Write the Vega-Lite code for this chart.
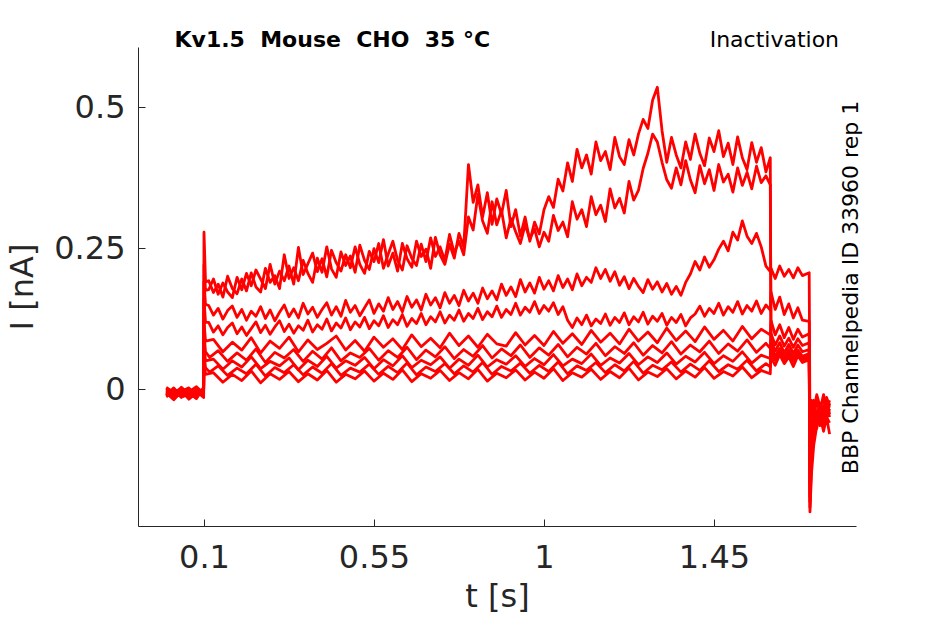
{
"$schema": "https://vega.github.io/schema/vega-lite/v6.json",
"width": 718, "height": 479,
"autosize": "none",
"padding": {"left": 138, "top": 47, "right": 89, "bottom": 98},
"background": "white",
"config": {"view": {"stroke": null}, "font": "DejaVu Sans"},
"datasets": {"traces": [
{"s":1,"t":0,"i":-0.004},{"s":1,"t":0.02,"i":-0.013},{"s":1,"t":0.04,"i":0.003},{"s":1,"t":0.06,"i":-0.009},{"s":1,"t":0.08,"i":-0.016},{"s":1,"t":0.099,"i":0.001},
{"s":1,"t":0.1,"i":0.278},{"s":1,"t":0.104,"i":0.19},
{"s":1,"t":0.1125,"i":0.192},{"s":1,"t":0.125,"i":0.171},{"s":1,"t":0.1375,"i":0.186},{"s":1,"t":0.15,"i":0.163},{"s":1,"t":0.1625,"i":0.2},{"s":1,"t":0.175,"i":0.178},{"s":1,"t":0.1875,"i":0.169},{"s":1,"t":0.2,"i":0.195},{"s":1,"t":0.2125,"i":0.174},{"s":1,"t":0.225,"i":0.206},
{"s":1,"t":0.2375,"i":0.181},{"s":1,"t":0.25,"i":0.172},{"s":1,"t":0.2625,"i":0.214},{"s":1,"t":0.275,"i":0.189},{"s":1,"t":0.2875,"i":0.201},{"s":1,"t":0.3,"i":0.178},{"s":1,"t":0.3125,"i":0.238},{"s":1,"t":0.325,"i":0.196},{"s":1,"t":0.3375,"i":0.215},{"s":1,"t":0.35,"i":0.192},
{"s":1,"t":0.3625,"i":0.228},{"s":1,"t":0.375,"i":0.205},{"s":1,"t":0.3875,"i":0.189},{"s":1,"t":0.4,"i":0.232},{"s":1,"t":0.4125,"i":0.207},{"s":1,"t":0.425,"i":0.252},{"s":1,"t":0.4375,"i":0.213},{"s":1,"t":0.45,"i":0.198},{"s":1,"t":0.4625,"i":0.243},{"s":1,"t":0.475,"i":0.219},
{"s":1,"t":0.4875,"i":0.236},{"s":1,"t":0.5,"i":0.207},{"s":1,"t":0.5125,"i":0.255},{"s":1,"t":0.525,"i":0.228},{"s":1,"t":0.5375,"i":0.212},{"s":1,"t":0.55,"i":0.249},{"s":1,"t":0.5625,"i":0.224},{"s":1,"t":0.575,"i":0.265},{"s":1,"t":0.5875,"i":0.218},{"s":1,"t":0.6,"i":0.241},
{"s":1,"t":0.6125,"i":0.209},{"s":1,"t":0.625,"i":0.258},{"s":1,"t":0.6375,"i":0.231},{"s":1,"t":0.65,"i":0.216},{"s":1,"t":0.6625,"i":0.262},{"s":1,"t":0.675,"i":0.235},{"s":1,"t":0.6875,"i":0.248},{"s":1,"t":0.7,"i":0.214},{"s":1,"t":0.7125,"i":0.269},{"s":1,"t":0.725,"i":0.238},
{"s":1,"t":0.7375,"i":0.221},{"s":1,"t":0.75,"i":0.257},{"s":1,"t":0.7625,"i":0.232},{"s":1,"t":0.775,"i":0.276},{"s":1,"t":0.7875,"i":0.252},{"s":1,"t":0.8,"i":0.398},{"s":1,"t":0.8125,"i":0.331},{"s":1,"t":0.825,"i":0.362},{"s":1,"t":0.8375,"i":0.305},{"s":1,"t":0.85,"i":0.348},
{"s":1,"t":0.8625,"i":0.292},{"s":1,"t":0.875,"i":0.337},{"s":1,"t":0.8875,"i":0.31},{"s":1,"t":0.9,"i":0.352},{"s":1,"t":0.9125,"i":0.288},{"s":1,"t":0.925,"i":0.318},{"s":1,"t":0.9375,"i":0.271},{"s":1,"t":0.95,"i":0.305},{"s":1,"t":0.9625,"i":0.262},{"s":1,"t":0.975,"i":0.296},
{"s":1,"t":0.9875,"i":0.275},{"s":1,"t":1,"i":0.318},{"s":1,"t":1.0125,"i":0.341},{"s":1,"t":1.025,"i":0.322},{"s":1,"t":1.0375,"i":0.372},{"s":1,"t":1.05,"i":0.351},{"s":1,"t":1.0625,"i":0.401},{"s":1,"t":1.075,"i":0.368},{"s":1,"t":1.0875,"i":0.425},{"s":1,"t":1.1,"i":0.392},
{"s":1,"t":1.1125,"i":0.415},{"s":1,"t":1.125,"i":0.381},{"s":1,"t":1.1375,"i":0.438},{"s":1,"t":1.15,"i":0.405},{"s":1,"t":1.1625,"i":0.421},{"s":1,"t":1.175,"i":0.389},{"s":1,"t":1.1875,"i":0.446},{"s":1,"t":1.2,"i":0.412},{"s":1,"t":1.2125,"i":0.398},{"s":1,"t":1.225,"i":0.442},
{"s":1,"t":1.2375,"i":0.415},{"s":1,"t":1.25,"i":0.452},{"s":1,"t":1.2625,"i":0.478},{"s":1,"t":1.275,"i":0.462},{"s":1,"t":1.2875,"i":0.512},{"s":1,"t":1.3,"i":0.535},{"s":1,"t":1.3125,"i":0.458},{"s":1,"t":1.325,"i":0.402},{"s":1,"t":1.3375,"i":0.446},{"s":1,"t":1.35,"i":0.415},
{"s":1,"t":1.3625,"i":0.392},{"s":1,"t":1.375,"i":0.438},{"s":1,"t":1.3875,"i":0.407},{"s":1,"t":1.4,"i":0.452},{"s":1,"t":1.4125,"i":0.418},{"s":1,"t":1.425,"i":0.396},{"s":1,"t":1.4375,"i":0.445},{"s":1,"t":1.45,"i":0.421},{"s":1,"t":1.4625,"i":0.458},{"s":1,"t":1.475,"i":0.412},
{"s":1,"t":1.4875,"i":0.436},{"s":1,"t":1.5,"i":0.398},{"s":1,"t":1.5125,"i":0.447},{"s":1,"t":1.525,"i":0.41},{"s":1,"t":1.5375,"i":0.389},{"s":1,"t":1.55,"i":0.437},{"s":1,"t":1.5625,"i":0.402},{"s":1,"t":1.575,"i":0.428},{"s":1,"t":1.5875,"i":0.385},{"s":1,"t":1.599,"i":0.41},
{"s":1,"t":1.601,"i":0.056},{"s":1,"t":1.612,"i":0.042},{"s":1,"t":1.624,"i":0.061},{"s":1,"t":1.636,"i":0.045},{"s":1,"t":1.648,"i":0.057},{"s":1,"t":1.66,"i":0.04},{"s":1,"t":1.672,"i":0.059},{"s":1,"t":1.684,"i":0.047},{"s":1,"t":1.702,"i":0.052},
{"s":1,"t":1.704,"i":-0.08},{"s":1,"t":1.708,"i":-0.03},{"s":1,"t":1.714,"i":-0.05},{"s":1,"t":1.722,"i":-0.02},{"s":1,"t":1.73,"i":-0.04},{"s":1,"t":1.74,"i":-0.01},{"s":1,"t":1.748,"i":-0.035},{"s":1,"t":1.756,"i":-0.02},

{"s":2,"t":0,"i":-0.011},{"s":2,"t":0.02,"i":0.002},{"s":2,"t":0.04,"i":-0.015},{"s":2,"t":0.06,"i":-0.005},{"s":2,"t":0.08,"i":0.004},{"s":2,"t":0.099,"i":-0.008},
{"s":2,"t":0.1,"i":0.22},{"s":2,"t":0.104,"i":0.175},
{"s":2,"t":0.1125,"i":0.176},{"s":2,"t":0.125,"i":0.195},{"s":2,"t":0.1375,"i":0.168},{"s":2,"t":0.15,"i":0.188},{"s":2,"t":0.1625,"i":0.172},{"s":2,"t":0.175,"i":0.162},{"s":2,"t":0.1875,"i":0.198},{"s":2,"t":0.2,"i":0.176},{"s":2,"t":0.2125,"i":0.205},{"s":2,"t":0.225,"i":0.183},
{"s":2,"t":0.2375,"i":0.211},{"s":2,"t":0.25,"i":0.195},{"s":2,"t":0.2625,"i":0.178},{"s":2,"t":0.275,"i":0.221},{"s":2,"t":0.2875,"i":0.186},{"s":2,"t":0.3,"i":0.209},{"s":2,"t":0.3125,"i":0.192},{"s":2,"t":0.325,"i":0.218},{"s":2,"t":0.3375,"i":0.186},{"s":2,"t":0.35,"i":0.251},
{"s":2,"t":0.3625,"i":0.203},{"s":2,"t":0.375,"i":0.222},{"s":2,"t":0.3875,"i":0.241},{"s":2,"t":0.4,"i":0.208},{"s":2,"t":0.4125,"i":0.231},{"s":2,"t":0.425,"i":0.199},{"s":2,"t":0.4375,"i":0.246},{"s":2,"t":0.45,"i":0.224},{"s":2,"t":0.4625,"i":0.209},{"s":2,"t":0.475,"i":0.238},
{"s":2,"t":0.4875,"i":0.215},{"s":2,"t":0.5,"i":0.252},{"s":2,"t":0.5125,"i":0.221},{"s":2,"t":0.525,"i":0.205},{"s":2,"t":0.5375,"i":0.244},{"s":2,"t":0.55,"i":0.226},{"s":2,"t":0.5625,"i":0.258},{"s":2,"t":0.575,"i":0.214},{"s":2,"t":0.5875,"i":0.239},{"s":2,"t":0.6,"i":0.262},
{"s":2,"t":0.6125,"i":0.228},{"s":2,"t":0.625,"i":0.211},{"s":2,"t":0.6375,"i":0.254},{"s":2,"t":0.65,"i":0.232},{"s":2,"t":0.6625,"i":0.219},{"s":2,"t":0.675,"i":0.257},{"s":2,"t":0.6875,"i":0.226},{"s":2,"t":0.7,"i":0.268},{"s":2,"t":0.7125,"i":0.235},{"s":2,"t":0.725,"i":0.252},
{"s":2,"t":0.7375,"i":0.228},{"s":2,"t":0.75,"i":0.274},{"s":2,"t":0.7625,"i":0.241},{"s":2,"t":0.775,"i":0.262},{"s":2,"t":0.7875,"i":0.238},{"s":2,"t":0.8,"i":0.305},{"s":2,"t":0.8125,"i":0.282},{"s":2,"t":0.825,"i":0.345},{"s":2,"t":0.8375,"i":0.298},{"s":2,"t":0.85,"i":0.276},
{"s":2,"t":0.8625,"i":0.332},{"s":2,"t":0.875,"i":0.291},{"s":2,"t":0.8875,"i":0.317},{"s":2,"t":0.9,"i":0.268},{"s":2,"t":0.9125,"i":0.302},{"s":2,"t":0.925,"i":0.279},{"s":2,"t":0.9375,"i":0.258},{"s":2,"t":0.95,"i":0.291},{"s":2,"t":0.9625,"i":0.266},{"s":2,"t":0.975,"i":0.284},
{"s":2,"t":0.9875,"i":0.252},{"s":2,"t":1,"i":0.278},{"s":2,"t":1.0125,"i":0.262},{"s":2,"t":1.025,"i":0.308},{"s":2,"t":1.0375,"i":0.281},{"s":2,"t":1.05,"i":0.296},{"s":2,"t":1.0625,"i":0.27},{"s":2,"t":1.075,"i":0.332},{"s":2,"t":1.0875,"i":0.301},{"s":2,"t":1.1,"i":0.318},
{"s":2,"t":1.1125,"i":0.288},{"s":2,"t":1.125,"i":0.341},{"s":2,"t":1.1375,"i":0.309},{"s":2,"t":1.15,"i":0.326},{"s":2,"t":1.1625,"i":0.297},{"s":2,"t":1.175,"i":0.355},{"s":2,"t":1.1875,"i":0.321},{"s":2,"t":1.2,"i":0.338},{"s":2,"t":1.2125,"i":0.312},{"s":2,"t":1.225,"i":0.368},
{"s":2,"t":1.2375,"i":0.335},{"s":2,"t":1.25,"i":0.352},{"s":2,"t":1.2625,"i":0.391},{"s":2,"t":1.275,"i":0.418},{"s":2,"t":1.2875,"i":0.452},{"s":2,"t":1.3,"i":0.438},{"s":2,"t":1.3125,"i":0.402},{"s":2,"t":1.325,"i":0.371},{"s":2,"t":1.3375,"i":0.356},{"s":2,"t":1.35,"i":0.392},
{"s":2,"t":1.3625,"i":0.362},{"s":2,"t":1.375,"i":0.405},{"s":2,"t":1.3875,"i":0.371},{"s":2,"t":1.4,"i":0.348},{"s":2,"t":1.4125,"i":0.396},{"s":2,"t":1.425,"i":0.364},{"s":2,"t":1.4375,"i":0.389},{"s":2,"t":1.45,"i":0.352},{"s":2,"t":1.4625,"i":0.398},{"s":2,"t":1.475,"i":0.367},
{"s":2,"t":1.4875,"i":0.381},{"s":2,"t":1.5,"i":0.349},{"s":2,"t":1.5125,"i":0.392},{"s":2,"t":1.525,"i":0.361},{"s":2,"t":1.5375,"i":0.384},{"s":2,"t":1.55,"i":0.355},{"s":2,"t":1.5625,"i":0.395},{"s":2,"t":1.575,"i":0.366},{"s":2,"t":1.5875,"i":0.378},{"s":2,"t":1.599,"i":0.362},
{"s":2,"t":1.601,"i":0.066},{"s":2,"t":1.612,"i":0.051},{"s":2,"t":1.624,"i":0.069},{"s":2,"t":1.636,"i":0.055},{"s":2,"t":1.648,"i":0.064},{"s":2,"t":1.66,"i":0.05},{"s":2,"t":1.672,"i":0.067},{"s":2,"t":1.684,"i":0.054},{"s":2,"t":1.702,"i":0.06},
{"s":2,"t":1.704,"i":-0.1},{"s":2,"t":1.708,"i":-0.04},{"s":2,"t":1.714,"i":-0.02},{"s":2,"t":1.722,"i":-0.05},{"s":2,"t":1.73,"i":-0.025},{"s":2,"t":1.74,"i":-0.045},{"s":2,"t":1.748,"i":-0.015},{"s":2,"t":1.756,"i":-0.03},

{"s":3,"t":0,"i":0.001},{"s":3,"t":0.02,"i":-0.009},{"s":3,"t":0.04,"i":-0.003},{"s":3,"t":0.06,"i":-0.018},{"s":3,"t":0.08,"i":-0.007},{"s":3,"t":0.099,"i":-0.002},
{"s":3,"t":0.1,"i":0.19},{"s":3,"t":0.104,"i":0.15},
{"s":3,"t":0.1125,"i":0.148},{"s":3,"t":0.125,"i":0.131},{"s":3,"t":0.1375,"i":0.143},{"s":3,"t":0.15,"i":0.124},{"s":3,"t":0.1625,"i":0.139},{"s":3,"t":0.175,"i":0.147},{"s":3,"t":0.1875,"i":0.127},{"s":3,"t":0.2,"i":0.141},{"s":3,"t":0.2125,"i":0.122},{"s":3,"t":0.225,"i":0.138},
{"s":3,"t":0.2375,"i":0.129},{"s":3,"t":0.25,"i":0.146},{"s":3,"t":0.2625,"i":0.125},{"s":3,"t":0.275,"i":0.14},{"s":3,"t":0.2875,"i":0.121},{"s":3,"t":0.3,"i":0.136},{"s":3,"t":0.3125,"i":0.149},{"s":3,"t":0.325,"i":0.128},{"s":3,"t":0.3375,"i":0.142},{"s":3,"t":0.35,"i":0.126},
{"s":3,"t":0.3625,"i":0.152},{"s":3,"t":0.375,"i":0.133},{"s":3,"t":0.3875,"i":0.145},{"s":3,"t":0.4,"i":0.127},{"s":3,"t":0.4125,"i":0.141},{"s":3,"t":0.425,"i":0.153},{"s":3,"t":0.4375,"i":0.131},{"s":3,"t":0.45,"i":0.146},{"s":3,"t":0.4625,"i":0.129},{"s":3,"t":0.475,"i":0.157},
{"s":3,"t":0.4875,"i":0.136},{"s":3,"t":0.5,"i":0.148},{"s":3,"t":0.5125,"i":0.13},{"s":3,"t":0.525,"i":0.144},{"s":3,"t":0.5375,"i":0.158},{"s":3,"t":0.55,"i":0.134},{"s":3,"t":0.5625,"i":0.151},{"s":3,"t":0.575,"i":0.138},{"s":3,"t":0.5875,"i":0.162},{"s":3,"t":0.6,"i":0.141},
{"s":3,"t":0.6125,"i":0.155},{"s":3,"t":0.625,"i":0.137},{"s":3,"t":0.6375,"i":0.164},{"s":3,"t":0.65,"i":0.145},{"s":3,"t":0.6625,"i":0.158},{"s":3,"t":0.675,"i":0.14},{"s":3,"t":0.6875,"i":0.168},{"s":3,"t":0.7,"i":0.149},{"s":3,"t":0.7125,"i":0.162},{"s":3,"t":0.725,"i":0.144},
{"s":3,"t":0.7375,"i":0.171},{"s":3,"t":0.75,"i":0.152},{"s":3,"t":0.7625,"i":0.166},{"s":3,"t":0.775,"i":0.148},{"s":3,"t":0.7875,"i":0.175},{"s":3,"t":0.8,"i":0.156},{"s":3,"t":0.8125,"i":0.17},{"s":3,"t":0.825,"i":0.152},{"s":3,"t":0.8375,"i":0.179},{"s":3,"t":0.85,"i":0.16},
{"s":3,"t":0.8625,"i":0.174},{"s":3,"t":0.875,"i":0.158},{"s":3,"t":0.8875,"i":0.186},{"s":3,"t":0.9,"i":0.166},{"s":3,"t":0.9125,"i":0.181},{"s":3,"t":0.925,"i":0.164},{"s":3,"t":0.9375,"i":0.194},{"s":3,"t":0.95,"i":0.172},{"s":3,"t":0.9625,"i":0.188},{"s":3,"t":0.975,"i":0.17},
{"s":3,"t":0.9875,"i":0.198},{"s":3,"t":1,"i":0.177},{"s":3,"t":1.0125,"i":0.192},{"s":3,"t":1.025,"i":0.174},{"s":3,"t":1.0375,"i":0.201},{"s":3,"t":1.05,"i":0.18},{"s":3,"t":1.0625,"i":0.195},{"s":3,"t":1.075,"i":0.176},{"s":3,"t":1.0875,"i":0.204},{"s":3,"t":1.1,"i":0.183},
{"s":3,"t":1.1125,"i":0.198},{"s":3,"t":1.125,"i":0.189},{"s":3,"t":1.1375,"i":0.215},{"s":3,"t":1.15,"i":0.196},{"s":3,"t":1.1625,"i":0.212},{"s":3,"t":1.175,"i":0.191},{"s":3,"t":1.1875,"i":0.208},{"s":3,"t":1.2,"i":0.184},{"s":3,"t":1.2125,"i":0.199},{"s":3,"t":1.225,"i":0.178},
{"s":3,"t":1.2375,"i":0.196},{"s":3,"t":1.25,"i":0.182},{"s":3,"t":1.2625,"i":0.171},{"s":3,"t":1.275,"i":0.194},{"s":3,"t":1.2875,"i":0.177},{"s":3,"t":1.3,"i":0.19},{"s":3,"t":1.3125,"i":0.172},{"s":3,"t":1.325,"i":0.187},{"s":3,"t":1.3375,"i":0.168},{"s":3,"t":1.35,"i":0.182},
{"s":3,"t":1.3625,"i":0.166},{"s":3,"t":1.375,"i":0.189},{"s":3,"t":1.3875,"i":0.204},{"s":3,"t":1.4,"i":0.226},{"s":3,"t":1.4125,"i":0.211},{"s":3,"t":1.425,"i":0.234},{"s":3,"t":1.4375,"i":0.216},{"s":3,"t":1.45,"i":0.229},{"s":3,"t":1.4625,"i":0.248},{"s":3,"t":1.475,"i":0.262},
{"s":3,"t":1.4875,"i":0.245},{"s":3,"t":1.5,"i":0.278},{"s":3,"t":1.5125,"i":0.264},{"s":3,"t":1.525,"i":0.298},{"s":3,"t":1.5375,"i":0.271},{"s":3,"t":1.55,"i":0.258},{"s":3,"t":1.5625,"i":0.276},{"s":3,"t":1.575,"i":0.252},{"s":3,"t":1.5875,"i":0.218},{"s":3,"t":1.599,"i":0.208},
{"s":3,"t":1.601,"i":0.214},{"s":3,"t":1.612,"i":0.196},{"s":3,"t":1.624,"i":0.218},{"s":3,"t":1.636,"i":0.2},{"s":3,"t":1.648,"i":0.212},{"s":3,"t":1.66,"i":0.197},{"s":3,"t":1.672,"i":0.215},{"s":3,"t":1.684,"i":0.201},{"s":3,"t":1.702,"i":0.206},
{"s":3,"t":1.704,"i":-0.06},{"s":3,"t":1.708,"i":-0.02},{"s":3,"t":1.714,"i":-0.04},{"s":3,"t":1.722,"i":-0.01},{"s":3,"t":1.73,"i":-0.03},{"s":3,"t":1.74,"i":-0.02},{"s":3,"t":1.748,"i":-0.04},{"s":3,"t":1.756,"i":-0.025},

{"s":4,"t":0,"i":-0.007},{"s":4,"t":0.02,"i":-0.019},{"s":4,"t":0.04,"i":-0.004},{"s":4,"t":0.06,"i":0.002},{"s":4,"t":0.08,"i":-0.012},{"s":4,"t":0.099,"i":-0.005},
{"s":4,"t":0.1,"i":0.16},{"s":4,"t":0.104,"i":0.118},
{"s":4,"t":0.1125,"i":0.118},{"s":4,"t":0.125,"i":0.101},{"s":4,"t":0.1375,"i":0.112},{"s":4,"t":0.15,"i":0.096},{"s":4,"t":0.1625,"i":0.109},{"s":4,"t":0.175,"i":0.117},{"s":4,"t":0.1875,"i":0.098},{"s":4,"t":0.2,"i":0.11},{"s":4,"t":0.2125,"i":0.095},{"s":4,"t":0.225,"i":0.107},
{"s":4,"t":0.2375,"i":0.119},{"s":4,"t":0.25,"i":0.1},{"s":4,"t":0.2625,"i":0.113},{"s":4,"t":0.275,"i":0.097},{"s":4,"t":0.2875,"i":0.11},{"s":4,"t":0.3,"i":0.121},{"s":4,"t":0.3125,"i":0.102},{"s":4,"t":0.325,"i":0.115},{"s":4,"t":0.3375,"i":0.099},{"s":4,"t":0.35,"i":0.112},
{"s":4,"t":0.3625,"i":0.104},{"s":4,"t":0.375,"i":0.122},{"s":4,"t":0.3875,"i":0.101},{"s":4,"t":0.4,"i":0.114},{"s":4,"t":0.4125,"i":0.106},{"s":4,"t":0.425,"i":0.124},{"s":4,"t":0.4375,"i":0.103},{"s":4,"t":0.45,"i":0.117},{"s":4,"t":0.4625,"i":0.108},{"s":4,"t":0.475,"i":0.126},
{"s":4,"t":0.4875,"i":0.105},{"s":4,"t":0.5,"i":0.119},{"s":4,"t":0.5125,"i":0.11},{"s":4,"t":0.525,"i":0.127},{"s":4,"t":0.5375,"i":0.107},{"s":4,"t":0.55,"i":0.121},{"s":4,"t":0.5625,"i":0.112},{"s":4,"t":0.575,"i":0.13},{"s":4,"t":0.5875,"i":0.109},{"s":4,"t":0.6,"i":0.123},
{"s":4,"t":0.6125,"i":0.114},{"s":4,"t":0.625,"i":0.132},{"s":4,"t":0.6375,"i":0.111},{"s":4,"t":0.65,"i":0.125},{"s":4,"t":0.6625,"i":0.116},{"s":4,"t":0.675,"i":0.134},{"s":4,"t":0.6875,"i":0.114},{"s":4,"t":0.7,"i":0.128},{"s":4,"t":0.7125,"i":0.119},{"s":4,"t":0.725,"i":0.137},
{"s":4,"t":0.7375,"i":0.117},{"s":4,"t":0.75,"i":0.131},{"s":4,"t":0.7625,"i":0.122},{"s":4,"t":0.775,"i":0.14},{"s":4,"t":0.7875,"i":0.12},{"s":4,"t":0.8,"i":0.134},{"s":4,"t":0.8125,"i":0.125},{"s":4,"t":0.825,"i":0.143},{"s":4,"t":0.8375,"i":0.123},{"s":4,"t":0.85,"i":0.137},
{"s":4,"t":0.8625,"i":0.128},{"s":4,"t":0.875,"i":0.147},{"s":4,"t":0.8875,"i":0.127},{"s":4,"t":0.9,"i":0.141},{"s":4,"t":0.9125,"i":0.132},{"s":4,"t":0.925,"i":0.152},{"s":4,"t":0.9375,"i":0.131},{"s":4,"t":0.95,"i":0.145},{"s":4,"t":0.9625,"i":0.136},{"s":4,"t":0.975,"i":0.155},
{"s":4,"t":0.9875,"i":0.134},{"s":4,"t":1,"i":0.148},{"s":4,"t":1.0125,"i":0.138},{"s":4,"t":1.025,"i":0.153},{"s":4,"t":1.0375,"i":0.132},{"s":4,"t":1.05,"i":0.146},{"s":4,"t":1.0625,"i":0.122},{"s":4,"t":1.075,"i":0.109},{"s":4,"t":1.0875,"i":0.126},{"s":4,"t":1.1,"i":0.114},
{"s":4,"t":1.1125,"i":0.131},{"s":4,"t":1.125,"i":0.112},{"s":4,"t":1.1375,"i":0.124},{"s":4,"t":1.15,"i":0.116},{"s":4,"t":1.1625,"i":0.133},{"s":4,"t":1.175,"i":0.113},{"s":4,"t":1.1875,"i":0.127},{"s":4,"t":1.2,"i":0.118},{"s":4,"t":1.2125,"i":0.135},{"s":4,"t":1.225,"i":0.114},
{"s":4,"t":1.2375,"i":0.128},{"s":4,"t":1.25,"i":0.119},{"s":4,"t":1.2625,"i":0.136},{"s":4,"t":1.275,"i":0.115},{"s":4,"t":1.2875,"i":0.129},{"s":4,"t":1.3,"i":0.12},{"s":4,"t":1.3125,"i":0.134},{"s":4,"t":1.325,"i":0.113},{"s":4,"t":1.3375,"i":0.127},{"s":4,"t":1.35,"i":0.118},
{"s":4,"t":1.3625,"i":0.132},{"s":4,"t":1.375,"i":0.112},{"s":4,"t":1.3875,"i":0.126},{"s":4,"t":1.4,"i":0.133},{"s":4,"t":1.4125,"i":0.147},{"s":4,"t":1.425,"i":0.129},{"s":4,"t":1.4375,"i":0.143},{"s":4,"t":1.45,"i":0.134},{"s":4,"t":1.4625,"i":0.152},{"s":4,"t":1.475,"i":0.131},
{"s":4,"t":1.4875,"i":0.146},{"s":4,"t":1.5,"i":0.136},{"s":4,"t":1.5125,"i":0.155},{"s":4,"t":1.525,"i":0.133},{"s":4,"t":1.5375,"i":0.148},{"s":4,"t":1.55,"i":0.138},{"s":4,"t":1.5625,"i":0.156},{"s":4,"t":1.575,"i":0.134},{"s":4,"t":1.5875,"i":0.149},{"s":4,"t":1.599,"i":0.14},
{"s":4,"t":1.601,"i":0.172},{"s":4,"t":1.612,"i":0.141},{"s":4,"t":1.624,"i":0.163},{"s":4,"t":1.636,"i":0.132},{"s":4,"t":1.648,"i":0.151},{"s":4,"t":1.66,"i":0.126},{"s":4,"t":1.672,"i":0.144},{"s":4,"t":1.684,"i":0.122},{"s":4,"t":1.702,"i":0.12},
{"s":4,"t":1.704,"i":-0.14},{"s":4,"t":1.708,"i":-0.06},{"s":4,"t":1.714,"i":-0.09},{"s":4,"t":1.722,"i":-0.04},{"s":4,"t":1.73,"i":-0.06},{"s":4,"t":1.74,"i":-0.03},{"s":4,"t":1.748,"i":-0.05},{"s":4,"t":1.756,"i":-0.035},

{"s":5,"t":0,"i":-0.014},{"s":5,"t":0.02,"i":-0.003},{"s":5,"t":0.04,"i":-0.01},{"s":5,"t":0.06,"i":-0.006},{"s":5,"t":0.08,"i":-0.017},{"s":5,"t":0.099,"i":0.003},
{"s":5,"t":0.1,"i":0.12},{"s":5,"t":0.104,"i":0.085},
{"s":5,"t":0.125,"i":0.088},{"s":5,"t":0.15,"i":0.066},{"s":5,"t":0.175,"i":0.083},{"s":5,"t":0.2,"i":0.069},{"s":5,"t":0.225,"i":0.091},{"s":5,"t":0.25,"i":0.064},{"s":5,"t":0.275,"i":0.085},{"s":5,"t":0.3,"i":0.072},{"s":5,"t":0.325,"i":0.092},{"s":5,"t":0.35,"i":0.066},
{"s":5,"t":0.375,"i":0.087},{"s":5,"t":0.4,"i":0.07},{"s":5,"t":0.425,"i":0.081},{"s":5,"t":0.45,"i":0.094},{"s":5,"t":0.475,"i":0.069},{"s":5,"t":0.5,"i":0.086},{"s":5,"t":0.525,"i":0.067},{"s":5,"t":0.55,"i":0.092},{"s":5,"t":0.575,"i":0.074},{"s":5,"t":0.6,"i":0.089},
{"s":5,"t":0.625,"i":0.07},{"s":5,"t":0.65,"i":0.096},{"s":5,"t":0.675,"i":0.075},{"s":5,"t":0.7,"i":0.09},{"s":5,"t":0.725,"i":0.073},{"s":5,"t":0.75,"i":0.099},{"s":5,"t":0.775,"i":0.077},{"s":5,"t":0.8,"i":0.094},{"s":5,"t":0.825,"i":0.074},{"s":5,"t":0.85,"i":0.097},
{"s":5,"t":0.875,"i":0.08},{"s":5,"t":0.9,"i":0.076},{"s":5,"t":0.925,"i":0.1},{"s":5,"t":0.95,"i":0.078},{"s":5,"t":0.975,"i":0.095},{"s":5,"t":1,"i":0.077},{"s":5,"t":1.025,"i":0.102},{"s":5,"t":1.05,"i":0.081},{"s":5,"t":1.075,"i":0.098},{"s":5,"t":1.1,"i":0.079},
{"s":5,"t":1.125,"i":0.104},{"s":5,"t":1.15,"i":0.083},{"s":5,"t":1.175,"i":0.099},{"s":5,"t":1.2,"i":0.08},{"s":5,"t":1.225,"i":0.106},{"s":5,"t":1.25,"i":0.085},{"s":5,"t":1.275,"i":0.101},{"s":5,"t":1.3,"i":0.082},{"s":5,"t":1.325,"i":0.108},{"s":5,"t":1.35,"i":0.086},
{"s":5,"t":1.375,"i":0.103},{"s":5,"t":1.4,"i":0.084},{"s":5,"t":1.425,"i":0.11},{"s":5,"t":1.45,"i":0.088},{"s":5,"t":1.475,"i":0.104},{"s":5,"t":1.5,"i":0.085},{"s":5,"t":1.525,"i":0.111},{"s":5,"t":1.55,"i":0.089},{"s":5,"t":1.575,"i":0.106},{"s":5,"t":1.599,"i":0.096},
{"s":5,"t":1.601,"i":0.121},{"s":5,"t":1.612,"i":0.096},{"s":5,"t":1.624,"i":0.114},{"s":5,"t":1.636,"i":0.091},{"s":5,"t":1.648,"i":0.109},{"s":5,"t":1.66,"i":0.088},{"s":5,"t":1.672,"i":0.106},{"s":5,"t":1.684,"i":0.092},{"s":5,"t":1.702,"i":0.098},
{"s":5,"t":1.704,"i":-0.17},{"s":5,"t":1.708,"i":-0.08},{"s":5,"t":1.714,"i":-0.05},{"s":5,"t":1.722,"i":-0.07},{"s":5,"t":1.73,"i":-0.03},{"s":5,"t":1.74,"i":-0.055},{"s":5,"t":1.748,"i":-0.02},{"s":5,"t":1.756,"i":-0.045},

{"s":6,"t":0,"i":0.003},{"s":6,"t":0.02,"i":-0.006},{"s":6,"t":0.04,"i":-0.014},{"s":6,"t":0.06,"i":-0.01},{"s":6,"t":0.08,"i":-0.001},{"s":6,"t":0.099,"i":-0.011},
{"s":6,"t":0.1,"i":0.1},{"s":6,"t":0.104,"i":0.066},{"s":6,"t":0.115,"i":0.056},
{"s":6,"t":0.1375,"i":0.068},{"s":6,"t":0.1625,"i":0.049},{"s":6,"t":0.1875,"i":0.064},{"s":6,"t":0.2125,"i":0.051},{"s":6,"t":0.2375,"i":0.071},{"s":6,"t":0.2625,"i":0.047},{"s":6,"t":0.2875,"i":0.065},{"s":6,"t":0.3125,"i":0.055},{"s":6,"t":0.3375,"i":0.07},{"s":6,"t":0.3625,"i":0.049},
{"s":6,"t":0.3875,"i":0.067},{"s":6,"t":0.4125,"i":0.053},{"s":6,"t":0.4375,"i":0.073},{"s":6,"t":0.4625,"i":0.05},{"s":6,"t":0.4875,"i":0.064},{"s":6,"t":0.5125,"i":0.056},{"s":6,"t":0.5375,"i":0.072},{"s":6,"t":0.5625,"i":0.051},{"s":6,"t":0.5875,"i":0.068},{"s":6,"t":0.6125,"i":0.056},
{"s":6,"t":0.6375,"i":0.074},{"s":6,"t":0.6625,"i":0.052},{"s":6,"t":0.6875,"i":0.069},{"s":6,"t":0.7125,"i":0.057},{"s":6,"t":0.7375,"i":0.075},{"s":6,"t":0.7625,"i":0.054},{"s":6,"t":0.7875,"i":0.07},{"s":6,"t":0.8125,"i":0.058},{"s":6,"t":0.8375,"i":0.077},{"s":6,"t":0.8625,"i":0.055},
{"s":6,"t":0.8875,"i":0.071},{"s":6,"t":0.9125,"i":0.059},{"s":6,"t":0.9375,"i":0.078},{"s":6,"t":0.9625,"i":0.056},{"s":6,"t":0.9875,"i":0.073},{"s":6,"t":1.0125,"i":0.06},{"s":6,"t":1.0375,"i":0.079},{"s":6,"t":1.0625,"i":0.057},{"s":6,"t":1.0875,"i":0.074},{"s":6,"t":1.1125,"i":0.062},
{"s":6,"t":1.1375,"i":0.081},{"s":6,"t":1.1625,"i":0.059},{"s":6,"t":1.1875,"i":0.075},{"s":6,"t":1.2125,"i":0.063},{"s":6,"t":1.2375,"i":0.082},{"s":6,"t":1.2625,"i":0.06},{"s":6,"t":1.2875,"i":0.077},{"s":6,"t":1.3125,"i":0.064},{"s":6,"t":1.3375,"i":0.084},{"s":6,"t":1.3625,"i":0.062},
{"s":6,"t":1.3875,"i":0.078},{"s":6,"t":1.4125,"i":0.066},{"s":6,"t":1.4375,"i":0.085},{"s":6,"t":1.4625,"i":0.063},{"s":6,"t":1.4875,"i":0.08},{"s":6,"t":1.5125,"i":0.067},{"s":6,"t":1.5375,"i":0.087},{"s":6,"t":1.5625,"i":0.065},{"s":6,"t":1.5875,"i":0.081},{"s":6,"t":1.599,"i":0.072},
{"s":6,"t":1.601,"i":0.098},{"s":6,"t":1.612,"i":0.078},{"s":6,"t":1.624,"i":0.094},{"s":6,"t":1.636,"i":0.076},{"s":6,"t":1.648,"i":0.09},{"s":6,"t":1.66,"i":0.074},{"s":6,"t":1.672,"i":0.089},{"s":6,"t":1.684,"i":0.077},{"s":6,"t":1.702,"i":0.082},
{"s":6,"t":1.704,"i":-0.19},{"s":6,"t":1.708,"i":-0.1},{"s":6,"t":1.714,"i":-0.06},{"s":6,"t":1.722,"i":-0.04},{"s":6,"t":1.73,"i":-0.065},{"s":6,"t":1.74,"i":-0.03},{"s":6,"t":1.748,"i":-0.05},{"s":6,"t":1.756,"i":-0.06},

{"s":7,"t":0,"i":-0.009},{"s":7,"t":0.02,"i":-0.001},{"s":7,"t":0.04,"i":-0.006},{"s":7,"t":0.06,"i":-0.013},{"s":7,"t":0.08,"i":-0.004},{"s":7,"t":0.099,"i":-0.015},
{"s":7,"t":0.1,"i":0.08},{"s":7,"t":0.104,"i":0.05},
{"s":7,"t":0.125,"i":0.053},{"s":7,"t":0.15,"i":0.035},{"s":7,"t":0.175,"i":0.05},{"s":7,"t":0.2,"i":0.039},{"s":7,"t":0.225,"i":0.057},{"s":7,"t":0.25,"i":0.036},{"s":7,"t":0.275,"i":0.049},{"s":7,"t":0.3,"i":0.041},{"s":7,"t":0.325,"i":0.055},{"s":7,"t":0.35,"i":0.034},
{"s":7,"t":0.375,"i":0.051},{"s":7,"t":0.4,"i":0.04},{"s":7,"t":0.425,"i":0.058},{"s":7,"t":0.45,"i":0.037},{"s":7,"t":0.475,"i":0.05},{"s":7,"t":0.5,"i":0.042},{"s":7,"t":0.525,"i":0.056},{"s":7,"t":0.55,"i":0.036},{"s":7,"t":0.575,"i":0.052},{"s":7,"t":0.6,"i":0.041},
{"s":7,"t":0.625,"i":0.059},{"s":7,"t":0.65,"i":0.038},{"s":7,"t":0.675,"i":0.051},{"s":7,"t":0.7,"i":0.043},{"s":7,"t":0.725,"i":0.057},{"s":7,"t":0.75,"i":0.037},{"s":7,"t":0.775,"i":0.053},{"s":7,"t":0.8,"i":0.042},{"s":7,"t":0.825,"i":0.06},{"s":7,"t":0.85,"i":0.039},
{"s":7,"t":0.875,"i":0.052},{"s":7,"t":0.9,"i":0.044},{"s":7,"t":0.925,"i":0.059},{"s":7,"t":0.95,"i":0.04},{"s":7,"t":0.975,"i":0.054},{"s":7,"t":1,"i":0.043},{"s":7,"t":1.025,"i":0.061},{"s":7,"t":1.05,"i":0.041},{"s":7,"t":1.075,"i":0.053},{"s":7,"t":1.1,"i":0.045},
{"s":7,"t":1.125,"i":0.062},{"s":7,"t":1.15,"i":0.042},{"s":7,"t":1.175,"i":0.055},{"s":7,"t":1.2,"i":0.046},{"s":7,"t":1.225,"i":0.063},{"s":7,"t":1.25,"i":0.043},{"s":7,"t":1.275,"i":0.057},{"s":7,"t":1.3,"i":0.047},{"s":7,"t":1.325,"i":0.064},{"s":7,"t":1.35,"i":0.044},
{"s":7,"t":1.375,"i":0.058},{"s":7,"t":1.4,"i":0.048},{"s":7,"t":1.425,"i":0.065},{"s":7,"t":1.45,"i":0.045},{"s":7,"t":1.475,"i":0.059},{"s":7,"t":1.5,"i":0.049},{"s":7,"t":1.525,"i":0.066},{"s":7,"t":1.55,"i":0.046},{"s":7,"t":1.575,"i":0.06},{"s":7,"t":1.599,"i":0.054},
{"s":7,"t":1.601,"i":0.086},{"s":7,"t":1.612,"i":0.067},{"s":7,"t":1.624,"i":0.082},{"s":7,"t":1.636,"i":0.064},{"s":7,"t":1.648,"i":0.079},{"s":7,"t":1.66,"i":0.063},{"s":7,"t":1.672,"i":0.078},{"s":7,"t":1.684,"i":0.066},{"s":7,"t":1.702,"i":0.07},
{"s":7,"t":1.704,"i":-0.2},{"s":7,"t":1.708,"i":-0.12},{"s":7,"t":1.714,"i":-0.07},{"s":7,"t":1.722,"i":-0.05},{"s":7,"t":1.73,"i":-0.03},{"s":7,"t":1.74,"i":-0.06},{"s":7,"t":1.748,"i":-0.04},{"s":7,"t":1.756,"i":-0.03},

{"s":8,"t":0,"i":-0.002},{"s":8,"t":0.02,"i":-0.016},{"s":8,"t":0.04,"i":-0.008},{"s":8,"t":0.06,"i":-0.003},{"s":8,"t":0.08,"i":-0.011},{"s":8,"t":0.099,"i":-0.006},
{"s":8,"t":0.1,"i":0.065},{"s":8,"t":0.104,"i":0.038},{"s":8,"t":0.115,"i":0.03},
{"s":8,"t":0.1375,"i":0.041},{"s":8,"t":0.1625,"i":0.024},{"s":8,"t":0.1875,"i":0.037},{"s":8,"t":0.2125,"i":0.027},{"s":8,"t":0.2375,"i":0.044},{"s":8,"t":0.2625,"i":0.023},{"s":8,"t":0.2875,"i":0.038},{"s":8,"t":0.3125,"i":0.029},{"s":8,"t":0.3375,"i":0.043},{"s":8,"t":0.3625,"i":0.025},
{"s":8,"t":0.3875,"i":0.039},{"s":8,"t":0.4125,"i":0.028},{"s":8,"t":0.4375,"i":0.045},{"s":8,"t":0.4625,"i":0.024},{"s":8,"t":0.4875,"i":0.037},{"s":8,"t":0.5125,"i":0.03},{"s":8,"t":0.5375,"i":0.044},{"s":8,"t":0.5625,"i":0.026},{"s":8,"t":0.5875,"i":0.04},{"s":8,"t":0.6125,"i":0.029},
{"s":8,"t":0.6375,"i":0.046},{"s":8,"t":0.6625,"i":0.025},{"s":8,"t":0.6875,"i":0.039},{"s":8,"t":0.7125,"i":0.031},{"s":8,"t":0.7375,"i":0.045},{"s":8,"t":0.7625,"i":0.027},{"s":8,"t":0.7875,"i":0.041},{"s":8,"t":0.8125,"i":0.03},{"s":8,"t":0.8375,"i":0.047},{"s":8,"t":0.8625,"i":0.026},
{"s":8,"t":0.8875,"i":0.04},{"s":8,"t":0.9125,"i":0.032},{"s":8,"t":0.9375,"i":0.046},{"s":8,"t":0.9625,"i":0.028},{"s":8,"t":0.9875,"i":0.042},{"s":8,"t":1.0125,"i":0.031},{"s":8,"t":1.0375,"i":0.048},{"s":8,"t":1.0625,"i":0.027},{"s":8,"t":1.0875,"i":0.041},{"s":8,"t":1.1125,"i":0.033},
{"s":8,"t":1.1375,"i":0.047},{"s":8,"t":1.1625,"i":0.029},{"s":8,"t":1.1875,"i":0.043},{"s":8,"t":1.2125,"i":0.032},{"s":8,"t":1.2375,"i":0.049},{"s":8,"t":1.2625,"i":0.028},{"s":8,"t":1.2875,"i":0.042},{"s":8,"t":1.3125,"i":0.034},{"s":8,"t":1.3375,"i":0.048},{"s":8,"t":1.3625,"i":0.03},
{"s":8,"t":1.3875,"i":0.044},{"s":8,"t":1.4125,"i":0.033},{"s":8,"t":1.4375,"i":0.05},{"s":8,"t":1.4625,"i":0.031},{"s":8,"t":1.4875,"i":0.043},{"s":8,"t":1.5125,"i":0.035},{"s":8,"t":1.5375,"i":0.051},{"s":8,"t":1.5625,"i":0.032},{"s":8,"t":1.5875,"i":0.045},{"s":8,"t":1.599,"i":0.039},
{"s":8,"t":1.601,"i":0.075},{"s":8,"t":1.612,"i":0.058},{"s":8,"t":1.624,"i":0.072},{"s":8,"t":1.636,"i":0.056},{"s":8,"t":1.648,"i":0.07},{"s":8,"t":1.66,"i":0.055},{"s":8,"t":1.672,"i":0.069},{"s":8,"t":1.684,"i":0.058},{"s":8,"t":1.702,"i":0.063},
{"s":8,"t":1.704,"i":-0.21},{"s":8,"t":1.708,"i":-0.13},{"s":8,"t":1.714,"i":-0.08},{"s":8,"t":1.722,"i":-0.06},{"s":8,"t":1.73,"i":-0.04},{"s":8,"t":1.74,"i":-0.07},{"s":8,"t":1.748,"i":-0.03},{"s":8,"t":1.756,"i":-0.05},

{"s":9,"t":0,"i":-0.012},{"s":9,"t":0.02,"i":-0.007},{"s":9,"t":0.04,"i":0.002},{"s":9,"t":0.06,"i":-0.011},{"s":9,"t":0.08,"i":-0.009},{"s":9,"t":0.099,"i":-0.003},
{"s":9,"t":0.1,"i":0.05},{"s":9,"t":0.104,"i":0.026},
{"s":9,"t":0.125,"i":0.029},{"s":9,"t":0.15,"i":0.012},{"s":9,"t":0.175,"i":0.026},{"s":9,"t":0.2,"i":0.015},{"s":9,"t":0.225,"i":0.032},{"s":9,"t":0.25,"i":0.011},{"s":9,"t":0.275,"i":0.027},{"s":9,"t":0.3,"i":0.017},{"s":9,"t":0.325,"i":0.031},{"s":9,"t":0.35,"i":0.013},
{"s":9,"t":0.375,"i":0.027},{"s":9,"t":0.4,"i":0.016},{"s":9,"t":0.425,"i":0.033},{"s":9,"t":0.45,"i":0.012},{"s":9,"t":0.475,"i":0.026},{"s":9,"t":0.5,"i":0.018},{"s":9,"t":0.525,"i":0.032},{"s":9,"t":0.55,"i":0.014},{"s":9,"t":0.575,"i":0.028},{"s":9,"t":0.6,"i":0.017},
{"s":9,"t":0.625,"i":0.034},{"s":9,"t":0.65,"i":0.013},{"s":9,"t":0.675,"i":0.027},{"s":9,"t":0.7,"i":0.019},{"s":9,"t":0.725,"i":0.033},{"s":9,"t":0.75,"i":0.015},{"s":9,"t":0.775,"i":0.029},{"s":9,"t":0.8,"i":0.018},{"s":9,"t":0.825,"i":0.035},{"s":9,"t":0.85,"i":0.014},
{"s":9,"t":0.875,"i":0.028},{"s":9,"t":0.9,"i":0.02},{"s":9,"t":0.925,"i":0.034},{"s":9,"t":0.95,"i":0.016},{"s":9,"t":0.975,"i":0.03},{"s":9,"t":1,"i":0.019},{"s":9,"t":1.025,"i":0.036},{"s":9,"t":1.05,"i":0.015},{"s":9,"t":1.075,"i":0.029},{"s":9,"t":1.1,"i":0.021},
{"s":9,"t":1.125,"i":0.035},{"s":9,"t":1.15,"i":0.017},{"s":9,"t":1.175,"i":0.031},{"s":9,"t":1.2,"i":0.02},{"s":9,"t":1.225,"i":0.037},{"s":9,"t":1.25,"i":0.016},{"s":9,"t":1.275,"i":0.03},{"s":9,"t":1.3,"i":0.022},{"s":9,"t":1.325,"i":0.036},{"s":9,"t":1.35,"i":0.018},
{"s":9,"t":1.375,"i":0.032},{"s":9,"t":1.4,"i":0.021},{"s":9,"t":1.425,"i":0.038},{"s":9,"t":1.45,"i":0.019},{"s":9,"t":1.475,"i":0.031},{"s":9,"t":1.5,"i":0.023},{"s":9,"t":1.525,"i":0.039},{"s":9,"t":1.55,"i":0.02},{"s":9,"t":1.575,"i":0.033},{"s":9,"t":1.599,"i":0.027},
{"s":9,"t":1.601,"i":0.068},{"s":9,"t":1.612,"i":0.052},{"s":9,"t":1.624,"i":0.065},{"s":9,"t":1.636,"i":0.05},{"s":9,"t":1.648,"i":0.063},{"s":9,"t":1.66,"i":0.049},{"s":9,"t":1.672,"i":0.062},{"s":9,"t":1.684,"i":0.051},{"s":9,"t":1.702,"i":0.056},
{"s":9,"t":1.704,"i":-0.218},{"s":9,"t":1.708,"i":-0.15},{"s":9,"t":1.714,"i":-0.1},{"s":9,"t":1.722,"i":-0.065},{"s":9,"t":1.73,"i":-0.045},{"s":9,"t":1.74,"i":-0.075},{"s":9,"t":1.748,"i":-0.05},{"s":9,"t":1.756,"i":-0.08}
]},
"layer": [
{"data": {"name": "traces"},
 "mark": {"type": "line", "color": "#ff0000", "strokeWidth": 2.8, "strokeJoin": "round"},
 "encoding": {
  "x": {"field": "t", "type": "quantitative",
   "scale": {"domain": [-0.0747, 1.8259], "nice": false, "zero": false},
   "axis": {"values": [0.1, 0.55, 1, 1.45], "labelExpr": "'' + datum.value", "title": "t [s]",
    "grid": false, "labelFont": "DejaVu Sans", "titleFont": "DejaVu Sans", "labelFontSize": 32, "titleFontSize": 32,
    "titleFontWeight": "normal", "tickSize": -7, "labelPadding": 23, "titlePadding": 8, "labelFlush": false,
    "domainColor": "#262626", "tickColor": "#262626", "labelColor": "#262626", "titleColor": "#262626"}},
  "y": {"field": "i", "type": "quantitative",
   "scale": {"domain": [-0.2429, 0.6064], "nice": false, "zero": false},
   "axis": {"values": [0, 0.25, 0.5], "labelExpr": "'' + datum.value", "title": "I [nA]",
    "grid": false, "labelFont": "DejaVu Sans", "titleFont": "DejaVu Sans", "labelFontSize": 32, "titleFontSize": 32,
    "titleFontWeight": "normal", "tickSize": -7, "labelPadding": 20, "titlePadding": 14, "labelFlush": false,
    "domainColor": "#262626", "tickColor": "#262626", "labelColor": "#262626", "titleColor": "#262626"}},
  "detail": {"field": "s", "type": "nominal"}
 }},
{"data": {"values": [{}]},
 "mark": {"type": "text", "font": "DejaVu Sans", "fontSize": 22, "fontWeight": "bold", "align": "left", "baseline": "alphabetic", "color": "#000000"},
 "encoding": {"x": {"datum": 0.022}, "y": {"datum": 0.6064}, "text": {"value": "Kv1.5\u00a0 Mouse\u00a0 CHO\u00a0 35 °C"}}},
{"data": {"values": [{}]},
 "mark": {"type": "text", "font": "DejaVu Sans", "fontSize": 22, "align": "right", "baseline": "alphabetic", "color": "#000000"},
 "encoding": {"x": {"datum": 1.781}, "y": {"datum": 0.6064}, "text": {"value": "Inactivation"}}},
{"data": {"values": [{}]},
 "mark": {"type": "text", "font": "DejaVu Sans", "fontSize": 22, "align": "center", "baseline": "alphabetic", "angle": 270, "color": "#000000"},
 "encoding": {"x": {"datum": 1.8312}, "y": {"datum": 0.18}, "text": {"value": "BBP Channelpedia ID 33960 rep 1"}}}
]
}
